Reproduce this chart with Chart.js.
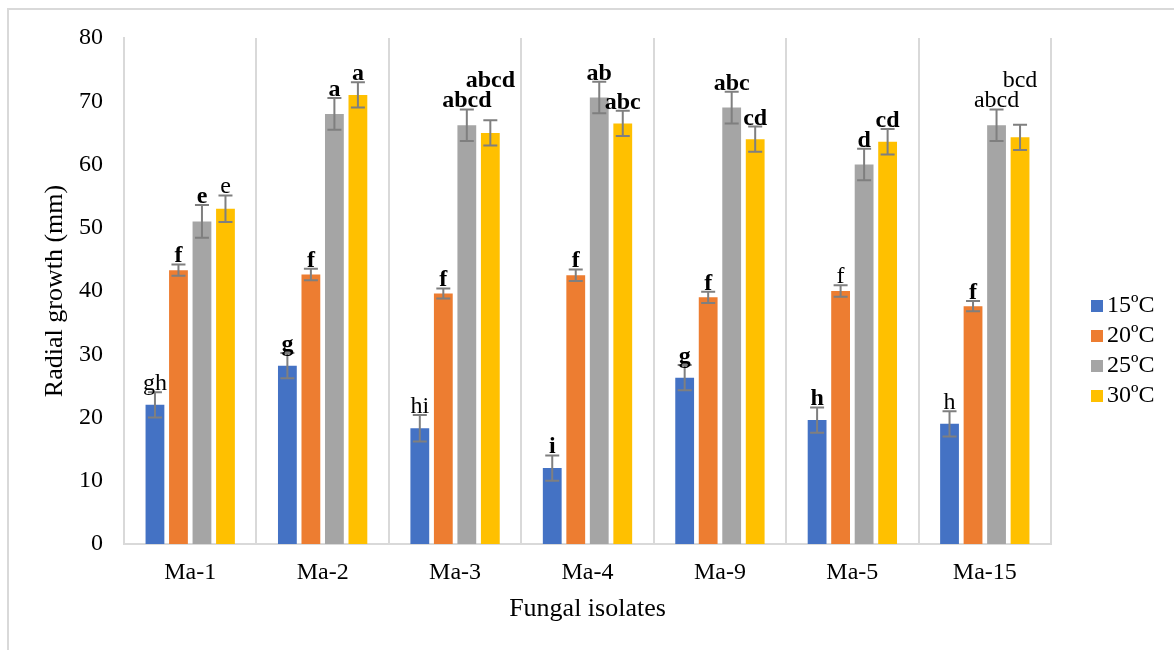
<!DOCTYPE html>
<html>
<head>
<meta charset="utf-8">
<script src="https://cdn.jsdelivr.net/npm/chart.js@4.4.1/dist/chart.umd.min.js"></script>
<style>
  html, body { margin: 0; padding: 0; background: #fff; }
  #wrap { position: absolute; left: 0; top: 0; width: 1174px; height: 650px; }
</style>
</head>
<body>
<div id="wrap"><canvas id="radialChart" width="1174" height="650"></canvas></div>
<script>
// isolates on the x axis
const isolates = ["Ma-1", "Ma-2", "Ma-3", "Ma-4", "Ma-9", "Ma-5", "Ma-15"];
const temps = ["15ºC", "20ºC", "25ºC", "30ºC"];
const yTicks = [0, 10, 20, 30, 40, 50, 60, 70, 80];

// mean radial growth (mm)
const growth15 = [22.0, 28.2, 18.3, 12.0, 26.3, 19.6, 19.0];
const growth20 = [43.3, 42.6, 39.6, 42.5, 39.0, 40.0, 37.6];
const growth25 = [51.0, 68.0, 66.2, 70.6, 69.0, 60.0, 66.2];
const growth30 = [53.0, 71.0, 65.0, 66.5, 64.0, 63.6, 64.3];

// error bars (+/-)
const err15 = [2.0, 2.0, 2.1, 2.0, 2.0, 2.0, 2.0];
const err20 = [0.9, 0.9, 0.8, 0.9, 0.9, 0.9, 0.8];
const err25 = [2.6, 2.5, 2.5, 2.5, 2.5, 2.5, 2.5];
const err30 = [2.1, 2.0, 2.0, 2.0, 2.0, 2.0, 2.0];

// significance letters and whether they are set in bold
const letters15 = ["gh", "g", "hi", "i", "g", "h", "h"];
const letters20 = ["f", "f", "f", "f", "f", "f", "f"];
const letters25 = ["e", "a", "abcd", "ab", "abc", "d", "abcd"];
const letters30 = ["e", "a", "abcd", "abc", "cd", "cd", "bcd"];
const bold15 = [false, true, false, true, true, true, false];
const bold20 = [true, true, true, true, true, false, true];
const bold25 = [true, true, true, true, true, true, false];
const bold30 = [false, true, true, true, true, true, false];

const colors = ["#4472C4", "#ED7D31", "#A5A5A5", "#FFC000"];
const FONT = "'Liberation Serif', 'Times New Roman', serif";

const allErr = [err15, err20, err25, err30];
const allLetters = [letters15, letters20, letters25, letters30];
const allBold = [bold15, bold20, bold25, bold30];

// white page with the thin grey frame Excel leaves
const framePlugin = {
  id: "frame",
  beforeDraw(chart) {
    const ctx = chart.ctx;
    ctx.save();
    ctx.fillStyle = "#fff";
    ctx.fillRect(0, 0, chart.width, chart.height);
    ctx.strokeStyle = "#d9d9d9";
    ctx.lineWidth = 2;
    ctx.beginPath();
    ctx.moveTo(8, chart.height);
    ctx.lineTo(8, 9);
    ctx.lineTo(chart.width, 9);
    ctx.stroke();
    ctx.restore();
  }
};

const errorBarPlugin = {
  id: "errorBars",
  afterDatasetsDraw(chart) {
    const ctx = chart.ctx;
    const y = chart.scales.y;
    ctx.save();
    ctx.strokeStyle = "#7f7f7f";
    ctx.lineWidth = 2;
    chart.data.datasets.forEach((ds, i) => {
      chart.getDatasetMeta(i).data.forEach((bar, j) => {
        const v = ds.data[j], e = allErr[i][j];
        const top = y.getPixelForValue(v + e);
        const bot = y.getPixelForValue(v - e);
        ctx.beginPath();
        ctx.moveTo(bar.x, top); ctx.lineTo(bar.x, bot);
        ctx.moveTo(bar.x - 7, top); ctx.lineTo(bar.x + 7, top);
        ctx.moveTo(bar.x - 7, bot); ctx.lineTo(bar.x + 7, bot);
        ctx.stroke();
      });
    });
    ctx.restore();
  }
};

// letters above the error bars; a label that would sit on top of
// another one in the same group is pushed up a line
const letterPlugin = {
  id: "letters",
  afterDatasetsDraw(chart) {
    const ctx = chart.ctx;
    const y = chart.scales.y;
    ctx.save();
    ctx.fillStyle = "#000";
    ctx.textAlign = "center";
    ctx.textBaseline = "alphabetic";
    for (let j = 0; j < isolates.length; j++) {
      const placed = [];
      chart.data.datasets.forEach((ds, i) => {
        const bar = chart.getDatasetMeta(i).data[j];
        ctx.font = (allBold[i][j] ? "bold " : "") + "24px " + FONT;
        const txt = allLetters[i][j];
        const w = ctx.measureText(txt).width;
        let base = y.getPixelForValue(ds.data[j] + allErr[i][j]) - 2;
        let moved = true;
        while (moved) {
          moved = false;
          for (const p of placed) {
            const hOver = Math.abs(p.x - bar.x) < (p.w + w) / 2;
            const vOver = Math.abs(p.base - base) < 20;
            if (hOver && vOver) { base = p.base - 20; moved = true; }
          }
        }
        ctx.fillText(txt, bar.x, base);
        placed.push({ x: bar.x, w: w, base: base });
      });
    }
    ctx.restore();
  }
};

const legendPlugin = {
  id: "sideLegend",
  afterDraw(chart) {
    const ctx = chart.ctx;
    ctx.save();
    ctx.font = "24px " + FONT;
    ctx.textBaseline = "middle";
    ctx.textAlign = "left";
    chart.data.datasets.forEach((ds, i) => {
      const cy = 306 + i * 30;
      ctx.fillStyle = ds.backgroundColor;
      ctx.fillRect(1091, cy - 6, 12, 12);
      ctx.fillStyle = "#000";
      ctx.fillText(ds.label, 1107, cy);
    });
    ctx.restore();
  }
};

const seriesData = [growth15, growth20, growth25, growth30];

new Chart("radialChart", {
  type: "bar",
  data: {
    labels: isolates,
    datasets: temps.map((t, i) => ({
      label: t,
      data: seriesData[i],
      backgroundColor: colors[i],
      categoryPercentage: 0.71,
      barPercentage: 0.8
    }))
  },
  options: {
    responsive: false,
    animation: false,
    layout: { padding: { left: 0, top: 38, right: 123, bottom: 0 } },
    plugins: {
      legend: { display: false },
      tooltip: { enabled: false }
    },
    scales: {
      x: {
        offset: true,
        grid: { display: true, offset: true, color: "#d9d9d9", lineWidth: 2, drawTicks: false },
        border: { display: true, color: "#d9d9d9", width: 2 },
        ticks: { color: "#000", padding: 14, font: { family: FONT, size: 24 } },
        title: {
          display: true, text: "Fungal isolates", color: "#000",
          font: { family: FONT, size: 26 }, padding: { top: 0, bottom: 25 }
        },
        afterFit(scale) { scale.height = 106; }
      },
      y: {
        min: 0, max: 80,
        afterBuildTicks(scale) { scale.ticks = yTicks.map(v => ({ value: v })); },
        grid: { display: false, drawTicks: false },
        border: { display: true, color: "#d9d9d9", width: 2 },
        ticks: { color: "#000", padding: 21, font: { family: FONT, size: 24 } },
        title: {
          display: true, text: "Radial growth (mm)", color: "#000",
          font: { family: FONT, size: 26 }, padding: { top: 40, bottom: 0 }
        },
        afterFit(scale) { scale.width = 124; }
      }
    }
  },
  plugins: [framePlugin, errorBarPlugin, letterPlugin, legendPlugin]
});
</script>
</body>
</html>
